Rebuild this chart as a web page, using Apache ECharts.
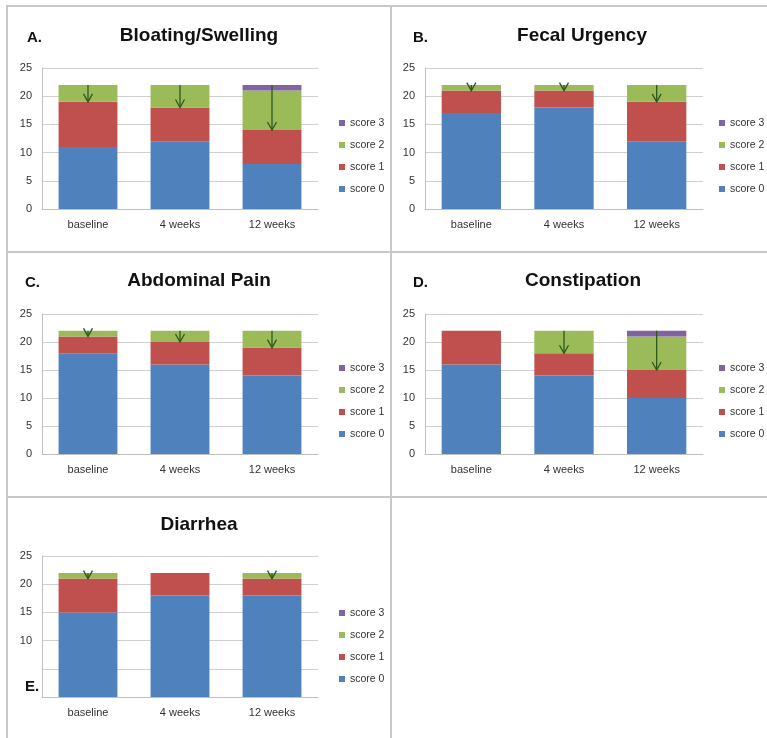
<!DOCTYPE html>
<html>
<head>
<meta charset="utf-8">
<script src="https://cdn.jsdelivr.net/npm/echarts@6/dist/echarts.min.js"></script>
<style>
  html, body { margin: 0; padding: 0; background: #fff; }
  #chart { position: absolute; left: 0; top: 0; width: 767px; height: 738px; }
  .rule { position: absolute; background: #c8c8c8; }
</style>
</head>
<body>
<div id="chart"></div>
<!-- panel frame lines -->
<div class="rule" style="left:6px;top:5px;width:761px;height:2px"></div>
<div class="rule" style="left:6px;top:5px;width:2px;height:733px"></div>
<div class="rule" style="left:390px;top:5px;width:2px;height:733px"></div>
<div class="rule" style="left:6px;top:251px;width:761px;height:2px"></div>
<div class="rule" style="left:6px;top:496px;width:761px;height:2px"></div>
<script>
// categories and legend
const categories = ['baseline', '4 weeks', '12 weeks'];
const scoreNames = ['score 0', 'score 1', 'score 2', 'score 3'];
const legendOrder = ['score 3', 'score 2', 'score 1', 'score 0'];
const yTicks = [0, 5, 10, 15, 20, 25];

// number of patients per score (baseline, 4 weeks, 12 weeks)
const bloatingScore0 = [11, 12, 8];
const bloatingScore1 = [8, 6, 6];
const bloatingScore2 = [3, 4, 7];
const bloatingScore3 = [0, 0, 1];

const urgencyScore0 = [17, 18, 12];
const urgencyScore1 = [4, 3, 7];
const urgencyScore2 = [1, 1, 3];
const urgencyScore3 = [0, 0, 0];

const painScore0 = [18, 16, 14];
const painScore1 = [3, 4, 5];
const painScore2 = [1, 2, 3];
const painScore3 = [0, 0, 0];

const constipationScore0 = [16, 14, 10];
const constipationScore1 = [6, 4, 5];
const constipationScore2 = [0, 4, 6];
const constipationScore3 = [0, 0, 1];

const diarrheaScore0 = [15, 18, 18];
const diarrheaScore1 = [6, 4, 3];
const diarrheaScore2 = [1, 0, 1];
const diarrheaScore3 = [0, 0, 0];

const colors = ['#4f81bd', '#c0504d', '#9bbb59', '#8064a2'];
const arrowColor = '#2a5a1c';

// layout of each panel
const panels = [
  { title: 'Bloating/Swelling', letter: 'A.', scores: [bloatingScore0, bloatingScore1, bloatingScore2, bloatingScore3],
    grid: { left: 42, top: 68, width: 276, height: 141 }, titleX: 199, titleY: 26, letterX: 27, letterY: 30,
    legendX: 334, legendY: 111 },
  { title: 'Fecal Urgency', letter: 'B.', scores: [urgencyScore0, urgencyScore1, urgencyScore2, urgencyScore3],
    grid: { left: 425, top: 68, width: 278, height: 141 }, titleX: 582, titleY: 26, letterX: 413, letterY: 30,
    legendX: 714, legendY: 111 },
  { title: 'Abdominal Pain', letter: 'C.', scores: [painScore0, painScore1, painScore2, painScore3],
    grid: { left: 42, top: 314, width: 276, height: 140 }, titleX: 199, titleY: 271, letterX: 25, letterY: 275,
    legendX: 334, legendY: 356 },
  { title: 'Constipation', letter: 'D.', scores: [constipationScore0, constipationScore1, constipationScore2, constipationScore3],
    grid: { left: 425, top: 314, width: 278, height: 140 }, titleX: 583, titleY: 271, letterX: 413, letterY: 275,
    legendX: 714, legendY: 356 },
  { title: 'Diarrhea', letter: 'E.', scores: [diarrheaScore0, diarrheaScore1, diarrheaScore2, diarrheaScore3],
    grid: { left: 42, top: 556, width: 276, height: 141 }, titleX: 199, titleY: 515, letterX: 25, letterY: 679,
    legendX: 334, legendY: 601, hideLow: true }
];

const font = 'Liberation Sans, Arial, sans-serif';
const chart = echarts.init(document.getElementById('chart'));

const option = {
  animation: false,
  backgroundColor: '#fff',
  title: [],
  legend: [],
  grid: [],
  xAxis: [],
  yAxis: [],
  series: []
};

panels.forEach((p, k) => {
  option.title.push({
    text: p.title, left: p.titleX, top: p.titleY, textAlign: 'center', padding: 0,
    textStyle: { fontFamily: font, fontSize: 19, fontWeight: 'bold', color: '#111' }
  });
  option.title.push({
    text: p.letter, left: p.letterX, top: p.letterY, padding: 0,
    textStyle: { fontFamily: font, fontSize: 15, fontWeight: 'bold', color: '#111' }
  });
  option.grid.push(Object.assign({ containLabel: false }, p.grid));
  option.legend.push({
    data: legendOrder, orient: 'vertical', left: p.legendX, top: p.legendY,
    itemWidth: 6, itemHeight: 6, itemGap: 8, icon: 'rect', selectedMode: false,
    textStyle: { fontFamily: font, fontSize: 10.5, color: '#333', lineHeight: 14 }
  });
  option.xAxis.push({
    type: 'category', gridIndex: k, data: categories,
    axisLine: { lineStyle: { color: '#bfbfbf' } },
    axisTick: { show: false },
    axisLabel: { fontFamily: font, fontSize: 11, color: '#333', margin: 10 }
  });
  option.yAxis.push({
    type: 'value', gridIndex: k, min: yTicks[0], max: yTicks[yTicks.length - 1], interval: yTicks[1] - yTicks[0],
    axisLine: { show: true, lineStyle: { color: '#bfbfbf' } },
    axisTick: { show: false },
    splitLine: { lineStyle: { color: '#d0d0d0' } },
    axisLabel: {
      fontFamily: font, fontSize: 11, color: '#333', margin: 10,
      formatter: v => (p.hideLow && v < 10 ? '' : String(v))
    }
  });
  p.scores.forEach((vals, s) => {
    option.series.push({
      type: 'bar', name: scoreNames[s], xAxisIndex: k, yAxisIndex: k, stack: 'panel' + k,
      data: vals, barWidth: '64%', itemStyle: { color: colors[s] }
    });
  });
  // arrows: from top of stack down to top of score 1
  const arrows = [];
  categories.forEach((c, i) => {
    const low = p.scores[0][i] + p.scores[1][i];
    const total = low + p.scores[2][i] + p.scores[3][i];
    if (total > low) arrows.push([i, total, low]);
  });
  option.series.push({
    type: 'custom', xAxisIndex: k, yAxisIndex: k, data: arrows, silent: true, z: 10,
    renderItem: (params, api) => {
      const a = api.coord([api.value(0), api.value(1)]);
      const b = api.coord([api.value(0), api.value(2)]);
      const st = { stroke: arrowColor, lineWidth: 1.3, fill: null };
      return {
        type: 'group',
        children: [
          { type: 'line', shape: { x1: a[0], y1: a[1], x2: b[0], y2: b[1] }, style: st },
          { type: 'polyline', shape: { points: [[b[0] - 4.5, b[1] - 8], [b[0], b[1]], [b[0] + 4.5, b[1] - 8]] }, style: st }
        ]
      };
    }
  });
});

chart.setOption(option);
</script>
</body>
</html>
